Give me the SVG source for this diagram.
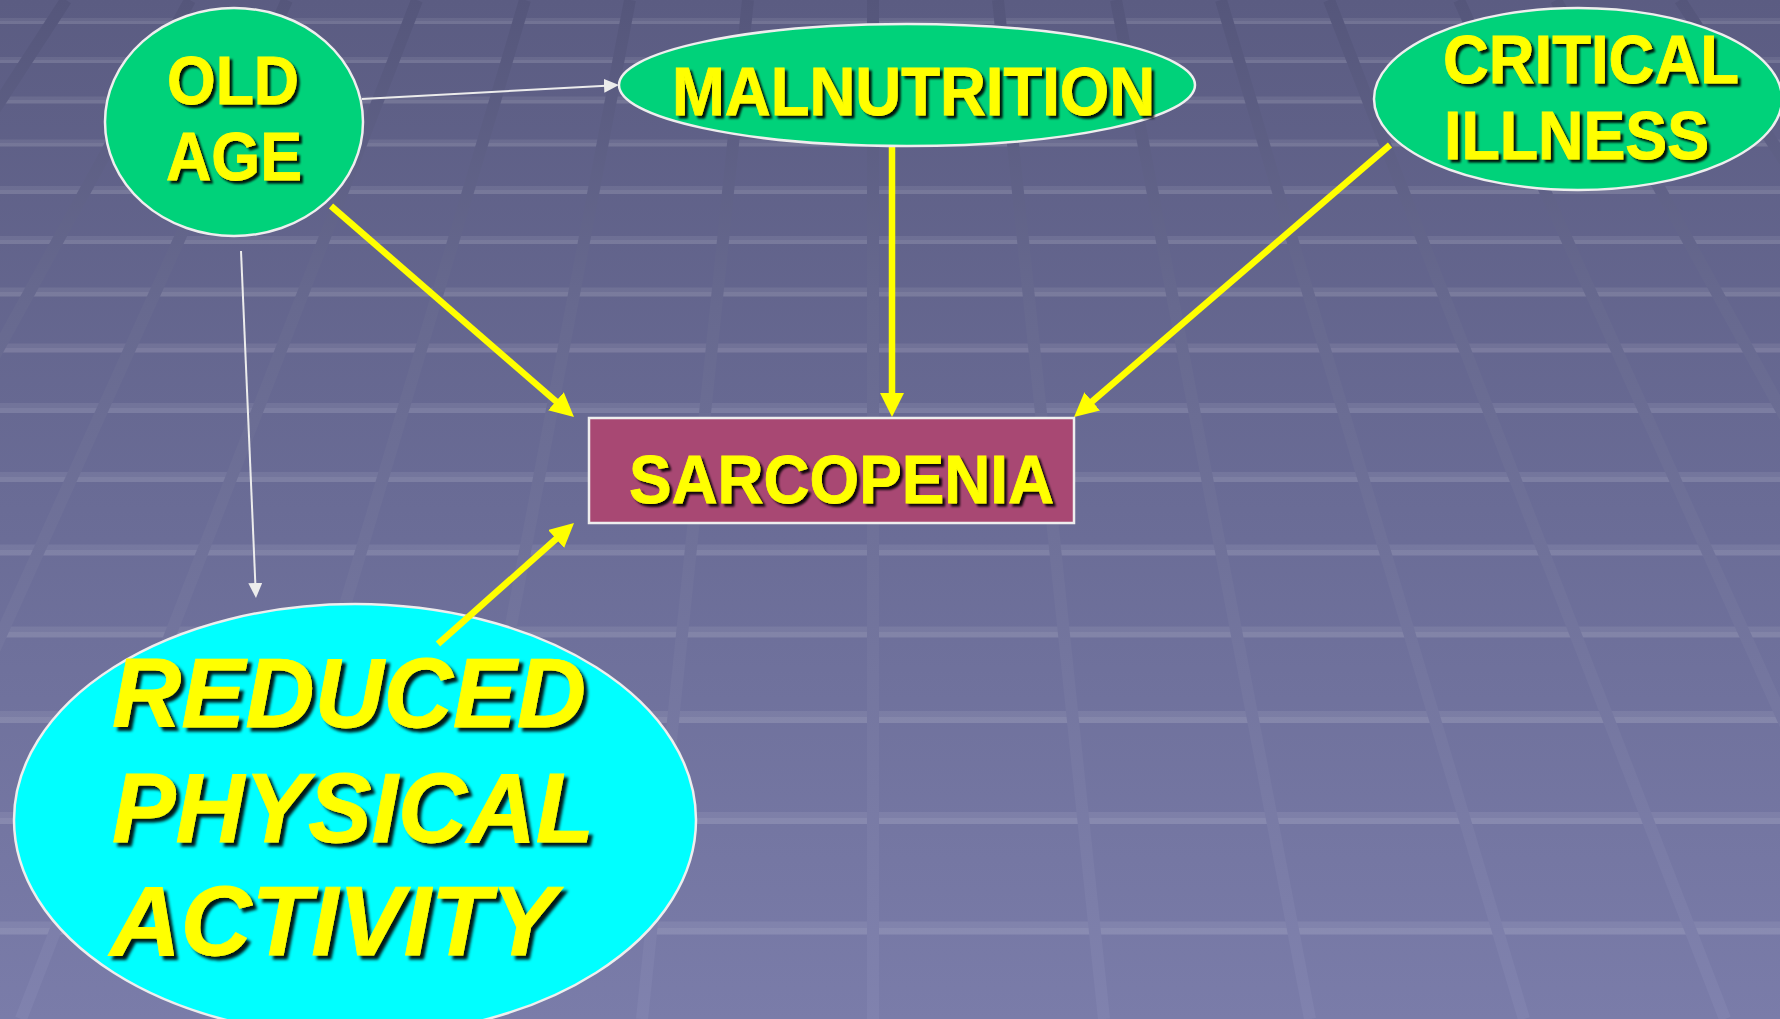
<svg xmlns="http://www.w3.org/2000/svg" width="1780" height="1019" viewBox="0 0 1780 1019">
<defs>
<linearGradient id="bg" x1="0" y1="0" x2="0" y2="1019" gradientUnits="userSpaceOnUse">
<stop offset="0" stop-color="#5b5c82"/>
<stop offset="0.5" stop-color="#6a6c96"/>
<stop offset="1" stop-color="#7a7ca9"/>
</linearGradient>
<linearGradient id="vg" x1="0" y1="0" x2="0" y2="1019" gradientUnits="userSpaceOnUse">
<stop offset="0" stop-color="#55567b"/>
<stop offset="0.3" stop-color="#67698f"/>
<stop offset="1" stop-color="#8082ae"/>
</linearGradient>
<filter id="ts" x="-10%" y="-20%" width="130%" height="150%">
<feDropShadow dx="3" dy="3" stdDeviation="1.2" flood-color="#000" flood-opacity="0.9"/>
</filter>
<filter id="tsl" x="-10%" y="-20%" width="130%" height="150%">
<feDropShadow dx="4" dy="4" stdDeviation="1.5" flood-color="#000" flood-opacity="0.9"/>
</filter>
<marker id="ya" markerUnits="userSpaceOnUse" markerWidth="24" markerHeight="24" refX="4" refY="12" orient="auto">
<path d="M0,0 L24,12 L0,24 z" fill="#ffff00"/>
</marker>
<marker id="wa" markerUnits="userSpaceOnUse" markerWidth="15" markerHeight="14" refX="2" refY="7" orient="auto">
<path d="M0,0 L15,7 L0,14 z" fill="#ececec"/>
</marker>
</defs>
<style>
.hl{fill:#ffffff;opacity:0.08}
.hl2{fill:#ffffff;opacity:0.07}
.vl{stroke:url(#vg);stroke-width:12;fill:none}
.node{stroke:#eeeeee;stroke-width:2.5}
.green{fill:#00d27a}
.t{font-family:"Liberation Sans",Arial,sans-serif;font-weight:bold;fill:#ffff00;stroke:#ffff00;stroke-width:0.8;font-size:69px;filter:url(#ts)}
.tb{font-family:"Liberation Sans",Arial,sans-serif;font-weight:bold;font-style:italic;fill:#ffff00;stroke:#ffff00;stroke-width:0.8;font-size:99px;filter:url(#tsl)}
.y{stroke:#ffff00;stroke-width:6.5;fill:none;marker-end:url(#ya)}
.w{stroke:#ececec;stroke-width:2;fill:none;marker-end:url(#wa)}
</style>
<g id="background">
<rect x="0" y="0" width="1780" height="1019" fill="url(#bg)"/>
<g id="h-lines">
<rect class="hl" x="0" y="18" width="1780" height="6"/><rect class="hl2" x="0" y="21" width="1780" height="3"/>
<rect class="hl" x="0" y="57" width="1780" height="6"/><rect class="hl2" x="0" y="60" width="1780" height="3"/>
<rect class="hl" x="0" y="96.5" width="1780" height="7"/><rect class="hl2" x="0" y="100" width="1780" height="3.5"/>
<rect class="hl" x="0" y="139.5" width="1780" height="7"/><rect class="hl2" x="0" y="143" width="1780" height="3.5"/>
<rect class="hl" x="0" y="186" width="1780" height="8"/><rect class="hl2" x="0" y="190" width="1780" height="4"/>
<rect class="hl" x="0" y="236" width="1780" height="8"/><rect class="hl2" x="0" y="240" width="1780" height="4"/>
<rect class="hl" x="0" y="287.5" width="1780" height="9"/><rect class="hl2" x="0" y="292" width="1780" height="4.5"/>
<rect class="hl" x="0" y="343.5" width="1780" height="9"/><rect class="hl2" x="0" y="348" width="1780" height="4.5"/>
<rect class="hl" x="0" y="403" width="1780" height="10"/><rect class="hl2" x="0" y="408" width="1780" height="5"/>
<rect class="hl" x="0" y="472" width="1780" height="10"/><rect class="hl2" x="0" y="477" width="1780" height="5"/>
<rect class="hl" x="0" y="544.5" width="1780" height="11"/><rect class="hl2" x="0" y="550" width="1780" height="5.5"/>
<rect class="hl" x="0" y="626.5" width="1780" height="11"/><rect class="hl2" x="0" y="632" width="1780" height="5.5"/>
<rect class="hl" x="0" y="711" width="1780" height="12"/><rect class="hl2" x="0" y="717" width="1780" height="6"/>
<rect class="hl" x="0" y="812" width="1780" height="12"/><rect class="hl2" x="0" y="818" width="1780" height="6"/>
<rect class="hl" x="0" y="921.5" width="1780" height="13"/><rect class="hl2" x="0" y="928" width="1780" height="6.5"/>
</g>
<g id="v-lines">
<line class="vl" x1="873" y1="0" x2="873" y2="1019"/>
<line class="vl" x1="998" y1="0" x2="1104" y2="1019"/>
<line class="vl" x1="1116" y1="0" x2="1310" y2="1019"/>
<line class="vl" x1="1221" y1="0" x2="1524" y2="1019"/>
<line class="vl" x1="1329" y1="0" x2="1725" y2="1019"/>
<line class="vl" x1="1459" y1="0" x2="1918" y2="1019"/>
<line class="vl" x1="1556" y1="0" x2="2116" y2="1019"/>
<line class="vl" x1="1680" y1="0" x2="2342" y2="1019"/>
<line class="vl" x1="748" y1="0" x2="642" y2="1019"/>
<line class="vl" x1="630" y1="0" x2="436" y2="1019"/>
<line class="vl" x1="525" y1="0" x2="222" y2="1019"/>
<line class="vl" x1="417" y1="0" x2="21" y2="1019"/>
<line class="vl" x1="287" y1="0" x2="-172" y2="1019"/>
<line class="vl" x1="190" y1="0" x2="-370" y2="1019"/>
<line class="vl" x1="66" y1="0" x2="-596" y2="1019"/>
</g>
</g>
<g id="connectors">
<line class="w" x1="362" y1="99" x2="606" y2="85.7"/>
<line class="w" x1="241" y1="251" x2="255.4" y2="585"/>
<line class="y" x1="331" y1="206" x2="558.9" y2="403.9"/>
<line class="y" x1="892" y1="146" x2="892" y2="397"/>
<line class="y" x1="1390" y1="145" x2="1089.2" y2="404"/>
</g>
<g id="node-old-age">
<ellipse class="node green" cx="234" cy="122" rx="129" ry="114"/>
<text class="t" x="167" y="104" textLength="132" lengthAdjust="spacingAndGlyphs">OLD</text>
<text class="t" x="166" y="180" textLength="136" lengthAdjust="spacingAndGlyphs">AGE</text>
</g>
<g id="node-malnutrition">
<ellipse class="node green" cx="907" cy="85" rx="288" ry="61"/>
<text class="t" x="672" y="115" textLength="483" lengthAdjust="spacingAndGlyphs">MALNUTRITION</text>
</g>
<g id="node-critical-illness">
<ellipse class="node green" cx="1578" cy="99" rx="204" ry="91"/>
<text class="t" x="1443" y="83" textLength="296" lengthAdjust="spacingAndGlyphs">CRITICAL</text>
<text class="t" x="1444" y="159" textLength="265" lengthAdjust="spacingAndGlyphs">ILLNESS</text>
</g>
<g id="node-sarcopenia">
<rect class="node" x="589" y="418" width="485" height="105" fill="#a84873"/>
<text class="t" x="629" y="503" textLength="425" lengthAdjust="spacingAndGlyphs">SARCOPENIA</text>
</g>
<g id="node-reduced-physical-activity">
<ellipse class="node" cx="355" cy="820" rx="341" ry="216" fill="#00ffff"/>
<text class="tb" x="112" y="727" textLength="474" lengthAdjust="spacingAndGlyphs">REDUCED</text>
<text class="tb" x="112" y="842" textLength="482" lengthAdjust="spacingAndGlyphs">PHYSICAL</text>
<text class="tb" x="110" y="955" textLength="446" lengthAdjust="spacingAndGlyphs">ACTIVITY</text>
</g>
<g id="connectors-front">
<line class="y" x1="438" y1="644" x2="559.1" y2="536.3"/>
</g>
</svg>
